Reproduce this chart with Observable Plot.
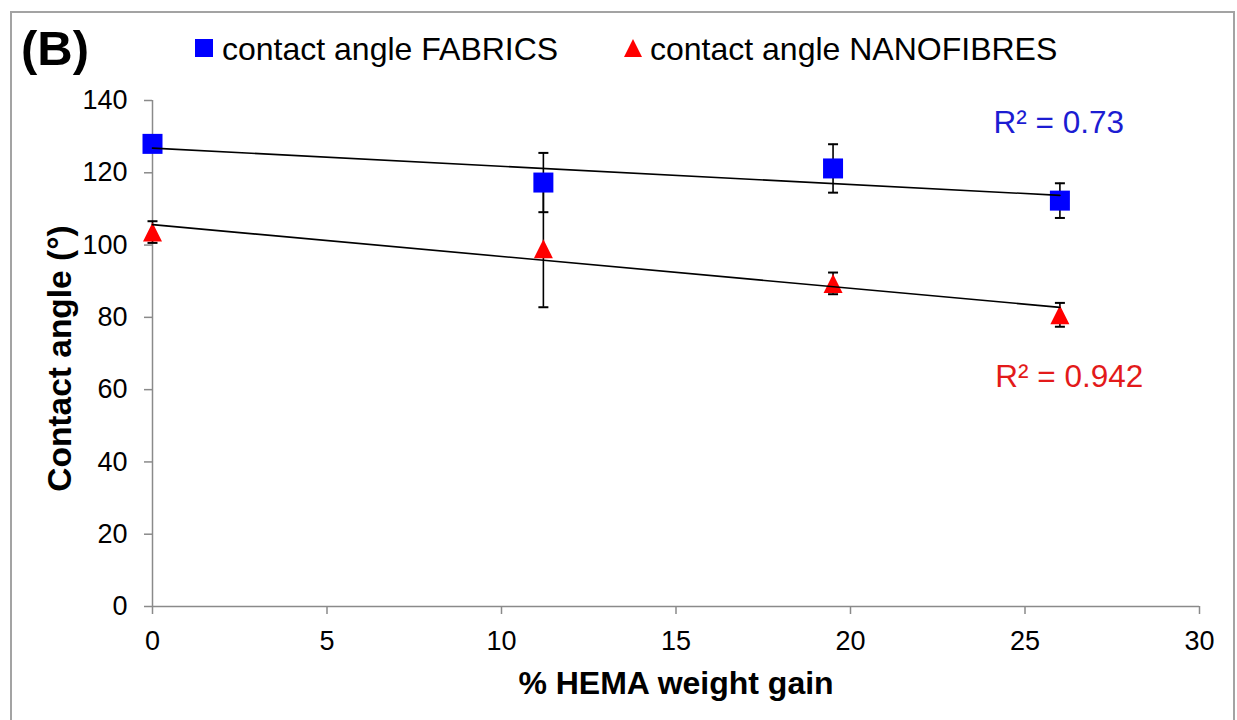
<!DOCTYPE html>
<html>
<head>
<meta charset="utf-8">
<script src="https://cdn.jsdelivr.net/npm/d3@7"></script>
<script src="https://cdn.jsdelivr.net/npm/@observablehq/plot@0.6"></script>
<style>
  html, body { margin: 0; padding: 0; background: #fff; }
  body { width: 1237px; height: 720px; overflow: hidden; position: relative; font-family: "Liberation Sans", Arial, sans-serif; }
  #frame { position: absolute; left: 10px; top: 11px; width: 1221px; height: 730px; border: 2px solid #a3a3a3; background: #fff; }
  .abs { position: absolute; white-space: nowrap; color: #000; }
  #panel { font-weight: bold; font-size: 49px; line-height: 49px; left: 9px; top: 11px; }
  .legtext { font-size: 32px; line-height: 32px; top: 20px; }
  #chart { position: absolute; left: 0; top: 60px; }
  #chart svg { overflow: visible; }
</style>
</head>
<body>
<div id="frame">
  <div id="panel" class="abs">(B)</div>
  <div class="abs" style="left:183px;top:26px;width:18px;height:18px;background:#0000ff;"></div>
  <div id="leg1" class="abs legtext" style="left:210px;"></div>
  <svg class="abs" style="left:612px;top:26px;" width="18" height="18"><polygon points="9,0 18,18 0,18" fill="#ff0000"/></svg>
  <div id="leg2" class="abs legtext" style="left:638px;"></div>
  <div id="chart"></div>
</div>
<script>
// ---- data ----
const seriesNames = ["contact angle FABRICS", "contact angle NANOFIBRES"];
const hemaGain = [0, 11.2, 19.5, 26];
const fabricsAngle = [128, 117.3, 121.2, 112.3];
const fabricsErr = [1, 8.2, 6.7, 4.8];
const nanoAngle = [103.6, 99, 89.4, 80.7];
const nanoErr = [3, 16.2, 3, 3.3];
const xTicks = [0, 5, 10, 15, 20, 25, 30];
const yTicks = [0, 20, 40, 60, 80, 100, 120, 140];
const r2Labels = [
  {x: 24.1, y: 130.9, text: "R² = 0.73", color: "#1c1cd2"},
  {x: 24.15, y: 60.6, text: "R² = 0.942", color: "#e31a1a"}
];
const xLabel = "% HEMA weight gain";
const yLabel = "Contact angle (°)";

document.getElementById("leg1").textContent = seriesNames[0];
document.getElementById("leg2").textContent = seriesNames[1];

const fabrics = hemaGain.map((x, i) => ({x, y: fabricsAngle[i], e: fabricsErr[i]}));
const nano = hemaGain.map((x, i) => ({x, y: nanoAngle[i], e: nanoErr[i]}));
const allPts = [...fabrics, ...nano];

// custom symbols (half-size = r, where size = PI r^2)
const sq = {draw(ctx, size) { const r = Math.sqrt(size / Math.PI); ctx.rect(-r, -r, 2 * r, 2 * r); }};
const tri = {draw(ctx, size) { const r = Math.sqrt(size / Math.PI); ctx.moveTo(0, -r); ctx.lineTo(r, r); ctx.lineTo(-r, r); ctx.closePath(); }};
const cap = {draw(ctx, size) { const r = Math.sqrt(size / Math.PI); ctx.moveTo(-r, 0); ctx.lineTo(r, 0); }};

const gray = "#8a8a8a";
const chart = Plot.plot({
  width: 1221,
  height: 647,
  marginLeft: 140,
  marginRight: 34,
  marginTop: 27,
  marginBottom: 114,
  style: {fontFamily: "'Liberation Sans', Arial, sans-serif", fontSize: "27px", color: "#000", background: "transparent"},
  x: {domain: [0, 30]},
  y: {domain: [0, 140]},
  marks: [
    Plot.ruleY([0], {stroke: gray, strokeWidth: 1.5}),
    Plot.ruleX([0], {stroke: gray, strokeWidth: 1.5}),
    Plot.axisX({ticks: xTicks, tickSize: 8, tickPadding: 16, stroke: gray, strokeWidth: 1.5, fill: "#000", label: null, tickFormat: d => String(d)}),
    Plot.axisY({ticks: yTicks, tickSize: 8, tickPadding: 17, stroke: gray, strokeWidth: 1.5, fill: "#000", label: null, tickFormat: d => String(d)}),
    // error bars
    Plot.ruleX(allPts, {x: "x", y1: d => d.y - d.e, y2: d => d.y + d.e, stroke: "#000", strokeWidth: 1.6}),
    Plot.dot(allPts, {x: "x", y: d => d.y + d.e, symbol: cap, r: 5, stroke: "#000", strokeWidth: 2, fill: "none"}),
    Plot.dot(allPts, {x: "x", y: d => d.y - d.e, symbol: cap, r: 5, stroke: "#000", strokeWidth: 2, fill: "none"}),
    // markers
    Plot.dot(fabrics, {x: "x", y: "y", symbol: sq, r: 10, fill: "#0000ff", stroke: "none"}),
    Plot.dot(nano, {x: "x", y: "y", symbol: tri, r: 9.5, fill: "#ff0000", stroke: "none"}),
    // linear trendlines
    Plot.linearRegressionY(fabrics, {x: "x", y: "y", ci: 0, stroke: "#000", strokeWidth: 1.6}),
    Plot.linearRegressionY(nano, {x: "x", y: "y", ci: 0, stroke: "#000", strokeWidth: 1.6}),
    // R² annotations
    Plot.text(r2Labels, {x: "x", y: "y", text: "text", fill: "color", textAnchor: "start", lineAnchor: "bottom", fontSize: 31.5}),
    // axis titles
    Plot.text([xLabel], {frameAnchor: "bottom", textAnchor: "middle", lineAnchor: "bottom", dy: 87, fontSize: 32, fontWeight: "bold", fill: "#000"}),
    Plot.text([yLabel], {frameAnchor: "left", textAnchor: "middle", lineAnchor: "bottom", rotate: -90, dx: -82, dy: 5, fontSize: 33.5, fontWeight: "bold", fill: "#000"})
  ]
});
document.getElementById("chart").appendChild(chart);
</script>
</body>
</html>
